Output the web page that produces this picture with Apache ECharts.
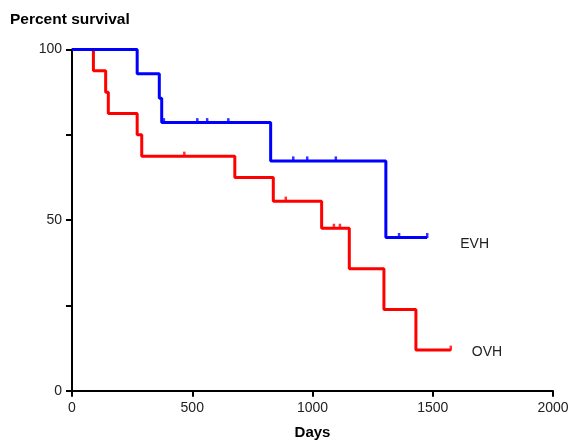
<!DOCTYPE html>
<html>
<head>
<meta charset="utf-8">
<script src="https://cdn.jsdelivr.net/npm/echarts@6/dist/echarts.min.js"></script>
<style>
  html, body { margin: 0; padding: 0; background: #fff; }
  #chart { width: 570px; height: 440px; }
</style>
</head>
<body>
<div id="chart"></div>
<script>
// Kaplan-Meier steps: day of each event and survival (%) after it
var evhDays = [0, 271, 363, 373, 826, 1305, 1477];
var evhSurv = [100, 92.86, 85.71, 78.57, 67.35, 44.9, 44.9];
var evhCensored = [382, 521, 562, 650, 920, 978, 1097, 1360, 1477];

var ovhDays = [0, 89, 140, 151, 271, 290, 677, 837, 1038, 1153, 1297, 1430, 1575];
var ovhSurv = [100, 93.75, 87.5, 81.25, 75, 68.75, 62.5, 55.56, 47.62, 35.71, 23.81, 11.9, 11.9];
var ovhCensored = [467, 889, 1089, 1114, 1575];

var xTicks = [0, 500, 1000, 1500, 2000];
var yLabels = [0, 50, 100];

var font = 'Liberation Sans, Arial, sans-serif';

function pairs(days, surv) {
  return days.map(function (d, i) { return [d, surv[i]]; });
}
// survival level at a censored time (value of the step in force)
function levelAt(days, surv, t) {
  var v = surv[0];
  for (var i = 0; i < days.length; i++) {
    if (days[i] <= t) v = surv[i];
  }
  return v;
}
function censorPts(days, surv, cens) {
  return cens.map(function (t) { return [t, levelAt(days, surv, t)]; });
}

var chart = echarts.init(document.getElementById('chart'));

function stepSeries(name, color, days, surv, offset) {
  return {
    name: name,
    type: 'line',
    step: 'end',
    data: pairs(days, surv),
    symbol: 'none',
    clip: false,
    lineStyle: { color: color, width: 3 },
    endLabel: {
      show: true,
      formatter: name,
      color: '#222',
      fontFamily: font,
      fontSize: 14,
      offset: offset
    },
    animation: false
  };
}
function censorSeries(color, days, surv, cens) {
  return {
    type: 'scatter',
    data: censorPts(days, surv, cens),
    symbol: 'rect',
    symbolSize: [2.5, 5],
    symbolOffset: [0, -2],
    clip: false,
    itemStyle: { color: color },
    animation: false
  };
}

chart.setOption({
  animation: false,
  title: {
    text: 'Percent survival',
    left: 5,
    top: 7,
    textStyle: { fontFamily: font, fontSize: 15.5, fontWeight: 'bold', color: '#000' }
  },
  grid: { left: 72, right: 17, top: 49.5, bottom: 49.3, outerBoundsMode: 'none' },
  xAxis: {
    type: 'value',
    min: 0,
    max: 2000,
    interval: 500,
    name: 'Days',
    nameLocation: 'middle',
    nameGap: 35,
    nameTextStyle: { fontFamily: font, fontSize: 15, fontWeight: 'bold', color: '#000' },
    splitLine: { show: false },
    axisLine: { lineStyle: { color: '#000', width: 2 } },
    axisTick: { length: 6, lineStyle: { color: '#000', width: 2 } },
    axisLabel: {
      fontFamily: font, fontSize: 14, color: '#222', margin: 10,
      formatter: function (v) { return xTicks.indexOf(v) >= 0 ? String(v) : ''; }
    }
  },
  yAxis: {
    type: 'value',
    min: 0,
    max: 100,
    interval: 25,
    splitLine: { show: false },
    axisLine: { show: true, lineStyle: { color: '#000', width: 2 } },
    axisTick: { show: true, length: 6, lineStyle: { color: '#000', width: 2 } },
    axisLabel: {
      fontFamily: font, fontSize: 14, color: '#222', margin: 10,
      formatter: function (v) { return yLabels.indexOf(v) >= 0 ? String(v) : ''; }
    }
  },
  series: [
    stepSeries('OVH', '#ff0000', ovhDays, ovhSurv, [13, 2]),
    censorSeries('#ff0000', ovhDays, ovhSurv, ovhCensored),
    stepSeries('EVH', '#0000ff', evhDays, evhSurv, [25, 7]),
    censorSeries('#0000ff', evhDays, evhSurv, evhCensored)
  ]
});
</script>
</body>
</html>
